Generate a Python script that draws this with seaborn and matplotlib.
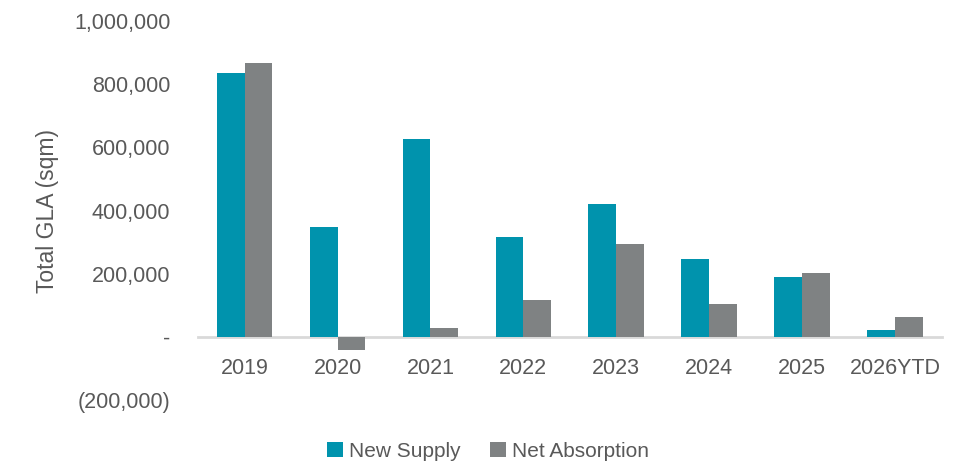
import matplotlib
matplotlib.use("Agg")
import matplotlib.pyplot as plt
import matplotlib.ticker as mticker
from matplotlib.patches import Patch
import seaborn as sns
import pandas as pd

years = ["2019", "2020", "2021", "2022", "2023", "2024", "2025", "2026YTD"]
new_supply = [835000, 349000, 625000, 316000, 421000, 245000, 191000, 21000]
net_absorption = [868000, -41000, 28000, 117000, 294000, 103000, 201000, 63000]
series_names = ["New Supply", "Net Absorption"]
colors = ["#0093AD", "#7F8283"]
y_ticks = [-200000, 0, 200000, 400000, 600000, 800000, 1000000]

df = pd.DataFrame({
    "Year": years * 2,
    "Series": [series_names[0]] * len(years) + [series_names[1]] * len(years),
    "Value": new_supply + net_absorption,
})

sns.set_theme(style="white")
plt.rcParams["font.family"] = ["Liberation Sans", "DejaVu Sans"]

fig = plt.figure(figsize=(9.57, 4.63), dpi=100)
ax = fig.add_axes([0.207, 0.136, 0.777, 0.8186])

sns.barplot(data=df, x="Year", y="Value", hue="Series", palette=colors,
            width=0.6, ax=ax, legend=False, saturation=1, edgecolor="none")

for name in ["top", "right", "left"]:
    ax.spines[name].set_visible(False)
ax.spines["bottom"].set_position(("data", 0))
ax.spines["bottom"].set_color("#D9D9D9")
ax.spines["bottom"].set_linewidth(2)
ax.spines["bottom"].set_zorder(0)

ax.set_ylim(-200000, 1000000)
ax.set_xlim(-0.5, len(years) - 0.5)
ax.set_yticks(y_ticks)

def fmt(v, pos):
    if abs(v) < 1:
        return "-"
    if v < 0:
        return "({:,.0f})".format(-v)
    return "{:,.0f}".format(v)

ax.yaxis.set_major_formatter(mticker.FuncFormatter(fmt))
ax.tick_params(axis="y", length=0, pad=20, labelsize=15.5, labelcolor="#595959")
ax.tick_params(axis="x", length=0, pad=15, labelsize=15.5, labelcolor="#595959")
ax.set_xlabel("")
ax.set_ylabel("Total GLA (sqm)", fontsize=16.5, color="#595959", labelpad=11)
ax.grid(False)

handles = [Patch(facecolor=c, edgecolor="none") for c in colors]
fig.legend(handles, series_names, loc="center", bbox_to_anchor=(0.51, 0.025),
           ncol=2, frameon=False, fontsize=15, labelcolor="#595959",
           handlelength=0.75, handleheight=0.75, handletextpad=0.3, columnspacing=1.4)

fig.savefig("out.png", dpi=100)
